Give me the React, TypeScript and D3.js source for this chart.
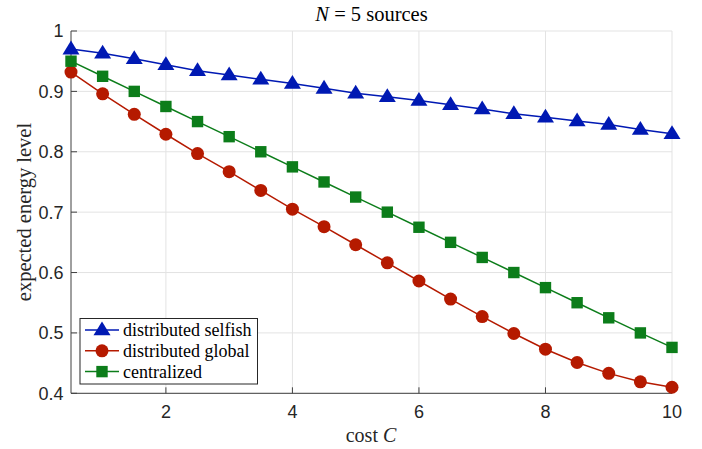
import React from "react";
import * as d3 from "d3";

const costs = [0.5, 1, 1.5, 2, 2.5, 3, 3.5, 4, 4.5, 5, 5.5, 6, 6.5, 7, 7.5, 8, 8.5, 9, 9.5, 10];
const selfish = [0.970, 0.963, 0.954, 0.944, 0.934, 0.927, 0.920, 0.913, 0.905, 0.897, 0.891, 0.885, 0.878, 0.871, 0.863, 0.857, 0.851, 0.845, 0.837, 0.830];
const global = [0.932, 0.896, 0.862, 0.829, 0.797, 0.767, 0.736, 0.705, 0.676, 0.646, 0.616, 0.586, 0.556, 0.527, 0.499, 0.473, 0.451, 0.433, 0.419, 0.410];
const centralized = [0.950, 0.925, 0.900, 0.875, 0.850, 0.825, 0.800, 0.775, 0.750, 0.725, 0.700, 0.675, 0.650, 0.625, 0.600, 0.575, 0.550, 0.525, 0.500, 0.476];
const xTicks = [2, 4, 6, 8, 10];
const yTicks = [0.4, 0.5, 0.6, 0.7, 0.8, 0.9, 1];
const seriesNames = ["distributed selfish", "distributed global", "centralized"];

const W = 702, H = 449;
const left = 71, right = 672, top = 31, bottom = 393.3;
const x = d3.scaleLinear().domain([0.5, 10]).range([left, right]);
const y = d3.scaleLinear().domain([0.4, 1]).range([bottom, top]);

const colors = ["#0019B3", "#B51A00", "#0C7D1A"];
const serif = "'Liberation Serif', 'DejaVu Serif', serif";
const sans = "'Liberation Sans', Arial, sans-serif";

function Marker({ kind, cx, cy, color }: { kind: number; cx: number; cy: number; color: string }) {
  if (kind === 0) {
    const s = 8.5;
    const p = `M${cx},${cy - s} L${cx + s},${cy + s * 0.62} L${cx - s},${cy + s * 0.62} Z`;
    return <path d={p} fill={color} />;
  }
  if (kind === 1) return <circle cx={cx} cy={cy} r={6.5} fill={color} />;
  return <rect x={cx - 5.7} y={cy - 5.7} width={11.4} height={11.4} fill={color} />;
}

export default function App() {
  const series = [selfish, global, centralized];
  const line = d3.line<number>().x((_, i) => x(costs[i])).y((d) => y(d));
  return (
    <svg width={W} height={H} style={{ position: "absolute", left: 0, top: 0, background: "#fff" }}>
      <rect width={W} height={H} fill="#fff" />
      {/* grid */}
      {xTicks.map((t) => (
        <line key={"gx" + t} x1={x(t)} x2={x(t)} y1={top} y2={bottom} stroke="#e3e3e3" strokeWidth={1} />
      ))}
      {yTicks.map((t) => (
        <line key={"gy" + t} x1={left} x2={right} y1={y(t)} y2={y(t)} stroke="#e3e3e3" strokeWidth={1} />
      ))}
      {/* axes */}
      <line x1={left} x2={left} y1={top} y2={bottom} stroke="#404040" strokeWidth={1} />
      <line x1={left} x2={right} y1={bottom} y2={bottom} stroke="#404040" strokeWidth={1} />
      {yTicks.map((t) => (
        <g key={"ty" + t}>
          <line x1={left} x2={left + 6} y1={y(t)} y2={y(t)} stroke="#404040" />
          <text x={left - 7.5} y={y(t)} dy="0.36em" textAnchor="end" fontFamily={sans} fontSize={18} fill="#262626">
            {t === 1 ? "1" : t.toFixed(1)}
          </text>
        </g>
      ))}
      {xTicks.map((t) => (
        <g key={"tx" + t}>
          <line x1={x(t)} x2={x(t)} y1={bottom} y2={bottom - 6} stroke="#404040" />
          <text x={x(t)} y={418.3} textAnchor="middle" fontFamily={sans} fontSize={18} fill="#262626">
            {t}
          </text>
        </g>
      ))}
      {/* series */}
      {series.map((s, k) => (
        <g key={"s" + k}>
          <path d={line(s) || ""} fill="none" stroke={colors[k]} strokeWidth={1.5} />
          {s.map((v, i) => (
            <Marker key={i} kind={k} cx={x(costs[i])} cy={y(v)} color={colors[k]} />
          ))}
        </g>
      ))}
      {/* title */}
      <text x={(left + right) / 2} y={20.5} textAnchor="middle" fontFamily={serif} fontSize={20.5} fill="#000">
        <tspan fontStyle="italic">N</tspan>
        <tspan> = 5 sources</tspan>
      </text>
      {/* x label */}
      <text x={371} y={441.5} textAnchor="middle" fontFamily={serif} fontSize={20} fill="#262626">
        <tspan>cost </tspan>
        <tspan fontStyle="italic">C</tspan>
      </text>
      {/* y label */}
      <text transform={`translate(31,212) rotate(-90)`} textAnchor="middle" fontFamily={serif} fontSize={20.5} fill="#262626">
        expected energy level
      </text>
      {/* legend */}
      <rect x={80} y={318.5} width={177.5} height={65.5} fill="#fff" stroke="#262626" strokeWidth={1} />
      {seriesNames.map((n, k) => {
        const ly = 330 + k * 20.8;
        return (
          <g key={"l" + k}>
            <line x1={85} x2={119} y1={ly} y2={ly} stroke={colors[k]} strokeWidth={1.5} />
            <Marker kind={k} cx={102} cy={ly} color={colors[k]} />
            <text x={123} y={ly} dy="0.33em" fontFamily={serif} fontSize={18} fill="#000">{n}</text>
          </g>
        );
      })}
    </svg>
  );
}
